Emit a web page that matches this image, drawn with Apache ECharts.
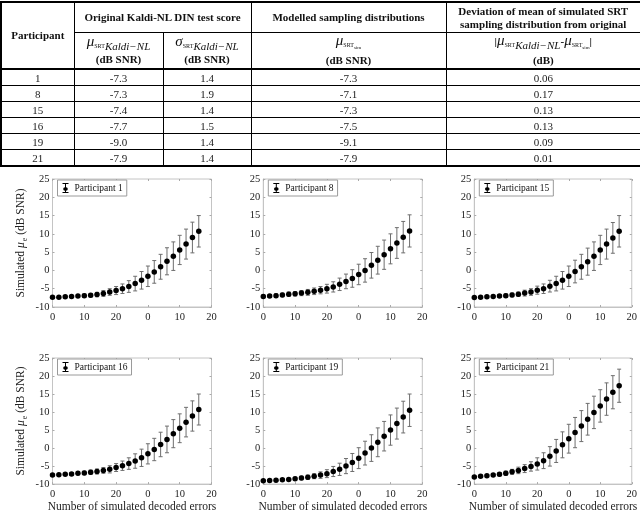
<!DOCTYPE html>
<html>
<head>
<meta charset="utf-8">
<script src="https://cdn.jsdelivr.net/npm/echarts@6/dist/echarts.min.js"></script>
<style>
  html, body { margin: 0; padding: 0; background: #fff; }
  #wrap { position: relative; width: 640px; height: 514px; overflow: hidden; }
  #chart { position: absolute; left: 0; top: 0; width: 640px; height: 514px; }
  #tbl { position: absolute; left: 0; top: 1px; width: 640px; border-collapse: collapse; table-layout: fixed;
         font-family: "Liberation Serif", "Times New Roman", serif; color: #111; z-index: 2; }
  #tbl th, #tbl td { border: 1px solid #000; padding: 0; text-align: center; vertical-align: middle; }
  #tbl th { font-weight: bold; font-size: 11px; line-height: 13px; }
  #tbl tr.h1 th { height: 29px; }
  #tbl tr.h2 th { height: 35px; border-bottom: 2px solid #000; }
  #tbl td { font-size: 11px; height: 15px; line-height: 14px; color: #222; }
  #tbl { border: 2px solid #000; }
  .m { font-style: italic; font-weight: normal; font-size: 15px; }
  .s1 { font-size: 6px; font-weight: normal; vertical-align: -2px; }
  .s2 { font-style: italic; font-weight: normal; font-size: 11px; vertical-align: -4px; }
  .s3 { font-size: 5px; font-weight: normal; vertical-align: -4px; }
</style>
</head>
<body>
<div id="wrap">
  <div id="chart"></div>
  <table id="tbl">
    <colgroup><col style="width:73px"><col style="width:89px"><col style="width:88px"><col style="width:195px"><col style="width:195px"></colgroup>
    <thead>
      <tr class="h1">
        <th rowspan="2" style="border-bottom:2px solid #000">Participant</th>
        <th colspan="2">Original Kaldi-NL DIN test score</th>
        <th>Modelled sampling distributions</th>
        <th>Deviation of mean of simulated SRT<br>sampling distribution from original</th>
      </tr>
      <tr class="h2">
        <th><span class="m">μ</span><span class="s1">SRT</span><span class="s2">Kaldi−NL</span><br>(dB SNR)</th>
        <th><span class="m">σ</span><span class="s1">SRT</span><span class="s2">Kaldi−NL</span><br>(dB SNR)</th>
        <th><span class="m">μ</span><span class="s1">SRT</span><span class="s3">sim</span><br>(dB SNR)</th>
        <th>|<span class="m">μ</span><span class="s1">SRT</span><span class="s2">Kaldi−NL</span>-<span class="m">μ</span><span class="s1">SRT</span><span class="s3">sim</span>|<br>(dB)</th>
      </tr>
    </thead>
    <tbody id="tb"></tbody>
  </table>
</div>
<script>
// ---- Table data ----
var participants = [1, 8, 15, 16, 19, 21];
var kaldiMu = ['-7.3', '-7.3', '-7.4', '-7.7', '-9.0', '-7.9'];
var kaldiSigma = ['1.4', '1.9', '1.4', '1.5', '1.4', '1.4'];
var simMu = ['-7.3', '-7.1', '-7.3', '-7.5', '-9.1', '-7.9'];
var deviation = ['0.06', '0.17', '0.13', '0.13', '0.09', '0.01'];

// ---- Plot data ----
var errorsX = [0, 2, 4, 6, 8, 10, 12, 14, 16, 18, 20, 22, 24, 26, 28, 30, 32, 34, 36, 38, 40, 42, 44, 46];
var xTickLabels = ['0', '10', '20', '0', '10', '20'];

var mean1 = [-7.3, -7.3, -7.2, -7.1, -7.0, -6.9, -6.8, -6.6, -6.3, -5.9, -5.5, -5.0, -4.4, -3.6, -2.7, -1.6, -0.4, 1.0, 2.5, 3.9, 5.6, 7.2, 9.0, 10.7];
var err1 = [0.2, 0.2, 0.3, 0.3, 0.4, 0.5, 0.5, 0.6, 0.8, 0.9, 1.1, 1.3, 1.6, 2.0, 2.4, 2.8, 3.1, 3.4, 3.7, 3.9, 4.0, 4.1, 4.2, 4.3];
var mean8 = [-7.1, -7.0, -6.9, -6.7, -6.5, -6.4, -6.2, -6.0, -5.7, -5.4, -5.0, -4.5, -3.8, -3.0, -2.2, -1.1, 0.0, 1.4, 2.8, 4.3, 5.9, 7.5, 9.1, 10.8];
var err8 = [0.4, 0.4, 0.5, 0.5, 0.6, 0.6, 0.7, 0.8, 0.9, 1.0, 1.2, 1.4, 1.7, 2.0, 2.4, 2.8, 3.2, 3.5, 3.8, 4.0, 4.1, 4.2, 4.3, 4.4];
var mean15 = [-7.4, -7.3, -7.2, -7.1, -7.0, -6.9, -6.7, -6.5, -6.2, -5.9, -5.4, -5.0, -4.3, -3.6, -2.7, -1.6, -0.3, 1.0, 2.4, 3.9, 5.6, 7.2, 8.9, 10.7];
var err15 = [0.2, 0.2, 0.3, 0.3, 0.4, 0.5, 0.5, 0.6, 0.8, 0.9, 1.1, 1.3, 1.6, 2.0, 2.4, 2.8, 3.1, 3.4, 3.7, 3.9, 4.0, 4.1, 4.2, 4.3];
var mean16 = [-7.5, -7.4, -7.3, -7.2, -7.0, -6.9, -6.7, -6.5, -6.2, -5.9, -5.4, -4.9, -4.3, -3.6, -2.7, -1.6, -0.4, 1.0, 2.4, 4.0, 5.5, 7.2, 8.9, 10.7];
var err16 = [0.2, 0.3, 0.3, 0.4, 0.4, 0.5, 0.6, 0.7, 0.8, 1.0, 1.1, 1.3, 1.6, 2.0, 2.4, 2.8, 3.1, 3.4, 3.7, 3.9, 4.0, 4.1, 4.2, 4.3];
var mean19 = [-9.1, -9.0, -8.9, -8.8, -8.7, -8.5, -8.3, -8.1, -7.8, -7.5, -7.1, -6.5, -5.9, -5.0, -4.0, -2.8, -1.4, 0.0, 1.6, 3.3, 5.0, 6.8, 8.6, 10.5];
var err19 = [0.2, 0.2, 0.2, 0.3, 0.3, 0.4, 0.5, 0.6, 0.7, 0.9, 1.1, 1.4, 1.7, 2.1, 2.5, 2.9, 3.3, 3.7, 4.0, 4.1, 4.2, 4.3, 4.4, 4.5];
var mean21 = [-8.0, -7.8, -7.7, -7.5, -7.3, -7.0, -6.6, -6.2, -5.7, -5.1, -4.4, -3.5, -2.3, -0.8, 0.9, 2.6, 4.3, 6.1, 8.0, 9.9, 11.7, 13.6, 15.5, 17.3];
var err21 = [0.2, 0.3, 0.3, 0.4, 0.5, 0.6, 0.7, 0.9, 1.1, 1.3, 1.7, 2.2, 2.7, 3.2, 3.6, 4.0, 4.2, 4.3, 4.4, 4.5, 4.5, 4.5, 4.6, 4.6];

var panelNames = ['Participant 1', 'Participant 8', 'Participant 15', 'Participant 16', 'Participant 19', 'Participant 21'];
var panelMeans = [mean1, mean8, mean15, mean16, mean19, mean21];
var panelErrs = [err1, err8, err15, err16, err19, err21];

// ---- Build table body ----
var tb = document.getElementById('tb');
for (var r = 0; r < participants.length; r++) {
  var tr = document.createElement('tr');
  [participants[r], kaldiMu[r], kaldiSigma[r], simMu[r], deviation[r]].forEach(function (v) {
    var td = document.createElement('td');
    td.textContent = String(v);
    tr.appendChild(td);
  });
  tb.appendChild(tr);
}

// ---- Chart ----
var FONT = '"Liberation Serif", "Times New Roman", serif';
var lefts = [52.5, 263.3, 474.3];
var tops = [179, 358];
var W = 159, H = 128;
var grids = [], xAxes = [], yAxes = [], series = [], legends = [];
var legendIcon = 'path://M2,0H8V1H5.5V4.2A1.8,1.8 0 0 1 5.5,7.8V9H8V10H2V9H4.5V7.8A1.8,1.8 0 0 1 4.5,4.2V1H2Z';

for (var i = 0; i < 6; i++) {
  var row = Math.floor(i / 3), col = i % 3;
  grids.push({ left: lefts[col], top: tops[row], width: W, height: H, show: true, borderColor: '#c4c4c4', borderWidth: 1, containLabel: false });
  var bottomRow = row === 1, firstCol = col === 0;
  xAxes.push({
    type: 'value', gridIndex: i, min: 0, max: 50, interval: 10, position: 'bottom',
    axisLine: { show: true, onZero: false, lineStyle: { color: '#c4c4c4', width: 1 } },
    axisTick: { show: true, inside: true, length: 2, lineStyle: { color: '#aaa' } },
    splitLine: { show: false },
    axisLabel: { margin: 5, fontFamily: FONT, fontSize: 10.5, color: '#222',
      formatter: function (v) { return xTickLabels[Math.round(v / 10)]; } },
    name: bottomRow ? 'Number of simulated decoded errors' : '',
    nameLocation: 'middle', nameGap: 15,
    nameTextStyle: { fontFamily: FONT, fontSize: 11.5, color: '#222' }
  });
  xAxes.push({
    type: 'value', gridIndex: i, min: 0, max: 50, interval: 10, position: 'top',
    axisLine: { show: false, onZero: false }, axisLabel: { show: false }, splitLine: { show: false },
    axisTick: { show: true, inside: true, length: 2, lineStyle: { color: '#aaa' } }
  });
  yAxes.push({
    type: 'value', gridIndex: i, min: -10, max: 25, interval: 5, position: 'left',
    axisLine: { show: true, onZero: false, lineStyle: { color: '#c4c4c4', width: 1 } },
    axisTick: { show: true, inside: true, length: 2, lineStyle: { color: '#aaa' } },
    splitLine: { show: false },
    axisLabel: { margin: 3, fontFamily: FONT, fontSize: 10.5, color: '#222' },
    name: firstCol ? '{a|Simulated }{i|μ}{s|e}{a| (dB SNR)}' : '',
    nameLocation: 'middle', nameRotate: 90, nameGap: 24,
    nameTextStyle: {
      fontFamily: FONT, fontSize: 11.5, color: '#222',
      rich: {
        a: { fontFamily: FONT, fontSize: 11.5, color: '#222', lineHeight: 16, verticalAlign: 'middle' },
        i: { fontFamily: FONT, fontSize: 11.5, fontStyle: 'italic', color: '#222', lineHeight: 16, verticalAlign: 'middle' },
        s: { fontFamily: FONT, fontSize: 8, color: '#222', lineHeight: 16, verticalAlign: 'bottom', padding: [0, 0, 0, 1] }
      }
    }
  });
  yAxes.push({
    type: 'value', gridIndex: i, min: -10, max: 25, interval: 5, position: 'right',
    axisLine: { show: false, onZero: false }, axisLabel: { show: false }, splitLine: { show: false },
    axisTick: { show: true, inside: true, length: 2, lineStyle: { color: '#aaa' } }
  });

  var m = panelMeans[i], e = panelErrs[i];
  var barData = errorsX.map(function (x, k) { return [x, m[k] - e[k], m[k] + e[k]]; });
  var ptData = errorsX.map(function (x, k) { return [x, m[k]]; });

  series.push({
    type: 'custom', name: panelNames[i] + ' error', xAxisIndex: 2 * i, yAxisIndex: 2 * i,
    data: barData, encode: { x: 0, y: [1, 2] }, silent: true, z: 2,
    renderItem: function (params, api) {
      var x = api.value(0);
      var p1 = api.coord([x, api.value(1)]);
      var p2 = api.coord([x, api.value(2)]);
      var cw = 2;
      var st = { stroke: '#6e6e6e', lineWidth: 1 };
      return {
        type: 'group',
        children: [
          { type: 'line', shape: { x1: p1[0], y1: p1[1], x2: p2[0], y2: p2[1] }, style: st },
          { type: 'line', shape: { x1: p1[0] - cw, y1: p1[1], x2: p1[0] + cw, y2: p1[1] }, style: st },
          { type: 'line', shape: { x1: p2[0] - cw, y1: p2[1], x2: p2[0] + cw, y2: p2[1] }, style: st }
        ]
      };
    }
  });
  series.push({
    type: 'scatter', name: panelNames[i], xAxisIndex: 2 * i, yAxisIndex: 2 * i,
    data: ptData, symbol: 'circle', symbolSize: 5.5, z: 3,
    itemStyle: { color: '#000', opacity: 1 }, emphasis: { disabled: true }
  });
  legends.push({
    data: [panelNames[i]], left: lefts[col] + 5, top: tops[row] + 1,
    orient: 'horizontal', backgroundColor: '#fff', borderColor: '#9a9a9a', borderWidth: 1, borderRadius: 0,
    padding: [3, 4, 3, 5], itemWidth: 8, itemHeight: 10, selectedMode: false,
    icon: legendIcon,
    textStyle: { fontFamily: FONT, fontSize: 9.5, color: '#111' }
  });
}

var chart = echarts.init(document.getElementById('chart'), null, { renderer: 'canvas' });
chart.setOption({
  animation: false,
  backgroundColor: '#fff',
  grid: grids, xAxis: xAxes, yAxis: yAxes, legend: legends, series: series
});
</script>
</body>
</html>
